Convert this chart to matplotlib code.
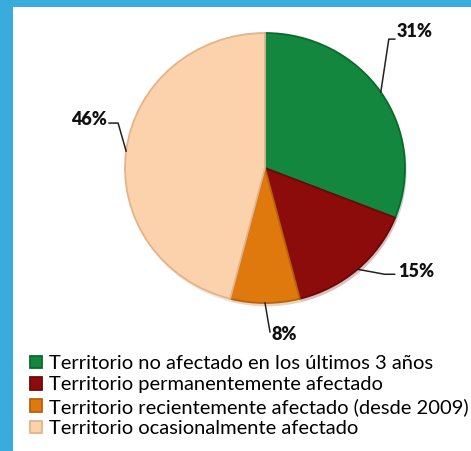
import numpy as np
import matplotlib.pyplot as plt
from matplotlib.patches import Rectangle
from matplotlib.lines import Line2D

labels = ["Territorio no afectado en los últimos 3 años",
          "Territorio permanentemente afectado",
          "Territorio recientemente afectado (desde 2009)",
          "Territorio ocasionalmente afectado"]
values = [31, 15, 8, 46]
pct_labels = ["31%", "15%", "8%", "46%"]
colors = ["#12873D", "#8C0C0C", "#DF790D", "#FBD2AC"]
edges = ["#0B6A2E", "#6E0808", "#B8620A", "#E3B48A"]

W, H = 471, 451
fig = plt.figure(figsize=(W / 100, H / 100), dpi=100)
fig.patch.set_facecolor("#3AABDD")
fig.patches.append(Rectangle((13 / W, 0), 1, (H - 7) / H, transform=fig.transFigure,
                             facecolor="white", edgecolor="none", zorder=-1))

# pie area: centre ~(265,168) px, slightly wider than tall
ax = fig.add_axes([125 / W, (H - 303) / H, 280 / W, 270 / H])
ax.set_facecolor("none")
wedges, _ = ax.pie(values, colors=colors, startangle=90, counterclock=False,
                   wedgeprops=dict(linewidth=1.3), radius=1,
                   shadow=dict(ox=0.008, oy=-0.018, shade=0.25, alpha=0.25, linewidth=0))
for w, ec in zip(wedges, edges):
    w.set_edgecolor(ec)
ax.set_aspect("auto")
ax.set_xlim(-1, 1)
ax.set_ylim(-1, 1)
ax.axis("off")

# leader lines: (elbow dx, elbow dy, tail dx) in pixels, text placement
leaders = [
    ((8, 53), 6, "left", "bottom", (2, -1)),
    ((27, -5), 10, "left", "center", (3, 3)),
    ((5, -29), 0, "left", "center", (2, -3)),
    ((-8, 28), -9, "right", "center", (-2, 4)),
]
fig.canvas.draw()
for w, lab, (el, tail, ha, va, toff) in zip(wedges, pct_labels, leaders):
    mid = np.deg2rad((w.theta1 + w.theta2) / 2)
    ex, ey = ax.transData.transform((np.cos(mid), np.sin(mid)))
    bx, by = ex + el[0], ey + el[1]
    cx, cy = bx + tail, by
    fig.add_artist(Line2D([ex, bx, cx], [ey, by, cy], transform=None,
                          color="#222222", linewidth=1.1))
    fig.text((cx + toff[0]) / W, (cy + toff[1]) / H, lab, ha=ha, va=va,
             fontsize=13, fontweight="heavy", family="Lato", color="#111111")

leg = fig.legend(wedges, labels, loc="upper left", bbox_to_anchor=(30 / W, (H - 355) / H),
                 frameon=False, prop=dict(family="Lato", size=14.5),
                 handlelength=0.6, handleheight=0.6, handletextpad=0.35,
                 labelspacing=0.22, borderpad=0, borderaxespad=0)

fig.savefig("out.png", dpi=100)
